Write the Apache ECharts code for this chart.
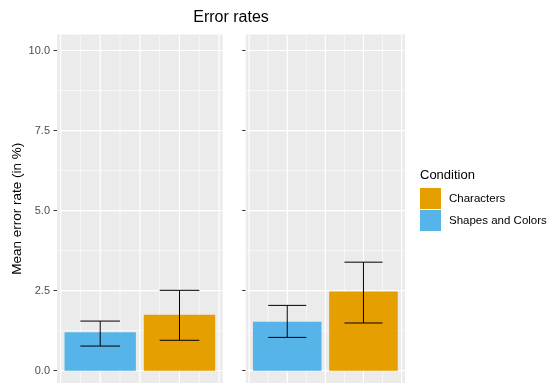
<!DOCTYPE html>
<html>
<head>
<meta charset="utf-8">
<script src="https://cdn.jsdelivr.net/npm/echarts@6/dist/echarts.min.js"></script>
<style>html,body{margin:0;padding:0;background:#fff}#c{width:551px;height:383px}</style>
</head>
<body>
<div id="c"></div>
<script>
// ---- data ----
const conditions = ['Characters', 'Shapes and Colors'];
const conditionColors = ['#E69F00', '#56B4E9'];
const conditionX = [2, 1];               // position of each condition inside a panel
const charsMean  = [1.75, 2.47];
const charsLow   = [0.95, 1.49];
const charsHigh  = [2.51, 3.39];
const shapesMean = [1.20, 1.53];
const shapesLow  = [0.77, 1.04];
const shapesHigh = [1.55, 2.04];
const yTicks      = [0, 2.5, 5, 7.5, 10];
const yMinorTicks = [1.25, 3.75, 6.25, 8.75];
const xTicks      = [0.5, 1, 1.5, 2, 2.5];
const xMinorTicks = [0.75, 1.25, 1.75, 2.25];

const FONT = '"Liberation Sans", Arial, sans-serif';
const panelGrids = [
  {left: 57, top: 34.5, width: 165.7, bottom: 0},
  {left: 245.7, top: 34.5, width: 159.3, bottom: 0}
];

const grid = panelGrids.map(g => Object.assign({show: true, backgroundColor: '#EBEBEB', borderWidth: 0, containLabel: false}, g));
const xAxis = panelGrids.map((g, i) => ({
  type: 'value', gridIndex: i, min: 0.455, max: 2.545,
  axisLine: {show: false}, axisTick: {show: false}, axisLabel: {show: false}, splitLine: {show: false}
}));
const yAxis = panelGrids.map((g, i) => ({
  type: 'value', gridIndex: i, min: -0.384, max: 10.5,
  axisLine: {show: false},
  axisTick: {show: true, length: 3.5, customValues: yTicks, lineStyle: {color: '#333333', width: 1}},
  axisLabel: {show: i === 0, customValues: yTicks, margin: 7, fontSize: 11, color: '#4D4D4D', fontFamily: FONT,
              formatter: v => Number(v).toFixed(1)},
  splitLine: {show: false},
  name: i === 0 ? 'Mean error rate (in %)' : '',
  nameLocation: 'middle', nameGap: 33,
  nameTextStyle: {fontSize: 13.5, color: '#000', fontFamily: FONT}
}));

// grid lines data: [direction (0 horizontal, 1 vertical), value, major]
const lineData = [];
yTicks.forEach(v => lineData.push([0, v, 1]));
yMinorTicks.forEach(v => lineData.push([0, v, 0]));
xTicks.forEach(v => lineData.push([1, v, 1]));
xMinorTicks.forEach(v => lineData.push([1, v, 0]));

function gridLineRender(params, api) {
  const cs = params.coordSys;
  const dir = api.value(0), v = api.value(1), major = api.value(2);
  let shape;
  if (dir === 0) {
    const y = api.coord([1, v])[1];
    shape = {x1: cs.x, y1: y, x2: cs.x + cs.width, y2: y};
  } else {
    const x = api.coord([v, 0])[0];
    shape = {x1: x, y1: cs.y, x2: x, y2: cs.y + cs.height};
  }
  return {type: 'line', shape, style: {stroke: '#FFFFFF', lineWidth: major ? 1.2 : 0.6}};
}

function barRender(params, api) {
  const x = api.value(0), m = api.value(1), lo = api.value(2), hi = api.value(3);
  const p0 = api.coord([x - 0.45, 0]);
  const p1 = api.coord([x + 0.45, m]);
  const color = api.visual('color');
  const cl = api.coord([x - 0.25, lo]), cr = api.coord([x + 0.25, lo]);
  const hl = api.coord([x - 0.25, hi]), hr = api.coord([x + 0.25, hi]);
  const cx = api.coord([x, 0])[0];
  const es = {stroke: '#000', lineWidth: 1};
  return {
    type: 'group',
    children: [
      {type: 'rect', shape: {x: p0[0], y: p1[1], width: p1[0] - p0[0], height: p0[1] - p1[1]}, style: {fill: color}},
      {type: 'line', shape: {x1: cx, y1: hl[1], x2: cx, y2: cl[1]}, style: es},
      {type: 'line', shape: {x1: hl[0], y1: hl[1], x2: hr[0], y2: hr[1]}, style: es},
      {type: 'line', shape: {x1: cl[0], y1: cl[1], x2: cr[0], y2: cr[1]}, style: es}
    ]
  };
}

const series = [];
panelGrids.forEach((g, i) => {
  series.push({type: 'custom', name: 'grid' + i, xAxisIndex: i, yAxisIndex: i, z: 1, silent: true,
               renderItem: gridLineRender, data: lineData, clip: true});
  series.push({type: 'custom', name: conditions[0], xAxisIndex: i, yAxisIndex: i, z: 3,
               itemStyle: {color: conditionColors[0]}, renderItem: barRender,
               encode: {x: 0, y: 1},
               data: [[conditionX[0], charsMean[i], charsLow[i], charsHigh[i]]]});
  series.push({type: 'custom', name: conditions[1], xAxisIndex: i, yAxisIndex: i, z: 3,
               itemStyle: {color: conditionColors[1]}, renderItem: barRender,
               encode: {x: 0, y: 1},
               data: [[conditionX[1], shapesMean[i], shapesLow[i], shapesHigh[i]]]});
});

const chart = echarts.init(document.getElementById('c'), null, {renderer: 'canvas'});
chart.setOption({
  animation: false,
  backgroundColor: '#fff',
  title: [
    {text: 'Error rates', left: 231, top: 9.5, textAlign: 'center', padding: 0,
     textStyle: {fontSize: 16, fontWeight: 'normal', color: '#000', fontFamily: FONT}},
    {text: 'Condition', left: 420, top: 169, padding: 0,
     textStyle: {fontSize: 13, fontWeight: 'normal', color: '#000', fontFamily: FONT}}
  ],
  legend: {
    data: conditions.map(n => ({name: n, icon: 'rect'})),
    orient: 'vertical', left: 420, top: 188, padding: 0,
    itemWidth: 21, itemHeight: 21, itemGap: 1, selectedMode: false,
    textStyle: {fontSize: 11.5, color: '#000', fontFamily: FONT, padding: [0, 0, 0, 3]}
  },
  grid, xAxis, yAxis, series
});
</script>
</body>
</html>
